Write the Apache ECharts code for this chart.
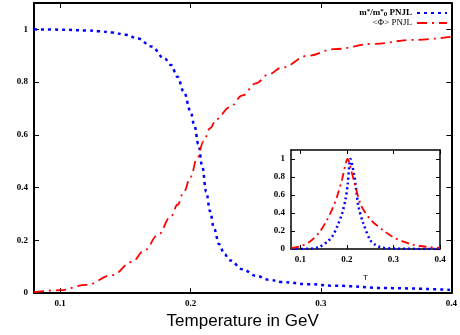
<!DOCTYPE html>
<html>
<head>
<meta charset="utf-8">
<script src="https://cdn.jsdelivr.net/npm/echarts@6/dist/echarts.min.js"></script>
<style>html,body{margin:0;padding:0;background:#fff}#chart{width:460px;height:335px}</style>
</head>
<body>
<div id="chart"></div>
<script>
// main panel: m*/m*0 (PNJL)
const massT = [0.08, 0.1, 0.12, 0.13, 0.14, 0.15, 0.16, 0.17, 0.18, 0.185, 0.19, 0.195, 0.2, 0.203, 0.206, 0.209, 0.212, 0.215, 0.218, 0.222, 0.226, 0.23, 0.24, 0.25, 0.26, 0.27, 0.29, 0.31, 0.35, 0.4]
const massRatio = [1.0, 0.999, 0.996, 0.993, 0.988, 0.98, 0.965, 0.935, 0.89, 0.865, 0.82, 0.762, 0.69, 0.635, 0.565, 0.48, 0.385, 0.31, 0.245, 0.185, 0.148, 0.125, 0.09, 0.066, 0.051, 0.042, 0.034, 0.028, 0.019, 0.012]

// main panel: <Phi> (PNJL)
const phiT = [0.08, 0.1, 0.12, 0.14, 0.155, 0.165, 0.175, 0.185, 0.19, 0.195, 0.2, 0.205, 0.21, 0.215, 0.22, 0.23, 0.24, 0.25, 0.26, 0.27, 0.29, 0.31, 0.34, 0.37, 0.4]
const phiValue = [0.004, 0.011, 0.031, 0.068, 0.118, 0.163, 0.22, 0.29, 0.335, 0.385, 0.44, 0.51, 0.575, 0.625, 0.66, 0.705, 0.75, 0.795, 0.83, 0.855, 0.9, 0.925, 0.945, 0.96, 0.972]

// inset: normalised susceptibilities
const chiMassT = [0.08, 0.12, 0.14, 0.16, 0.17, 0.18, 0.19, 0.197, 0.202, 0.2075, 0.215, 0.22, 0.225, 0.235, 0.25, 0.26, 0.272, 0.3, 0.4]
const chiMass = [0.0, 0.003, 0.02, 0.09, 0.15, 0.26, 0.4, 0.55, 0.73, 1.0, 0.84, 0.66, 0.47, 0.29, 0.1, 0.05, 0.02, 0.005, 0.0]
const chiPhiT = [0.08, 0.1, 0.12, 0.14, 0.155, 0.17, 0.18, 0.19, 0.196, 0.2, 0.202, 0.205, 0.21, 0.215, 0.22, 0.23, 0.24, 0.25, 0.26, 0.28, 0.3, 0.32, 0.34, 0.37, 0.4]
const chiPhi = [0.01, 0.03, 0.08, 0.18, 0.3, 0.46, 0.6, 0.78, 0.92, 0.99, 1.0, 0.96, 0.86, 0.76, 0.66, 0.49, 0.4, 0.33, 0.28, 0.2, 0.13, 0.085, 0.05, 0.025, 0.012]

const xTicks = [0.1, 0.2, 0.3, 0.4]
const yTicks = [0, 0.2, 0.4, 0.6, 0.8, 1]

const pairs = (xs, ys) => xs.map((x, i) => [x, ys[i]])

const tickFont = { fontFamily: 'Liberation Serif', fontWeight: 'bold', fontSize: 9, color: '#000' }

// one axis, ticks drawn inward, labels only on bottom/left
const makeAxis = (gridIndex, position, ticks, showLabel, lineWidth, tickLen, extra) => Object.assign({
    type: 'value',
    gridIndex,
    position,
    min: 0,
    max: 1,
    axisLine: { onZero: false, lineStyle: { color: '#000', width: lineWidth } },
    axisTick: { inside: true, length: tickLen, customValues: ticks, lineStyle: { color: '#000', width: 1 } },
    axisLabel: { show: showLabel, customValues: ticks, margin: 6, ...tickFont },
    splitLine: { show: false }
}, extra)

const chart = echarts.init(document.getElementById('chart'))

const option = {
    backgroundColor: '#fff',
    animation: false,
    grid: [
        { left: 34, top: 3, right: 3, bottom: 39 },
        { left: 291, top: 150, right: 20, bottom: 86, show: true, backgroundColor: '#fff', borderWidth: 0 }
    ],
    legend: {
        data: ['m*/m*0 PNJL', '<Φ> PNJL'],
        orient: 'vertical',
        right: 12,
        top: 8,
        align: 'right',
        itemWidth: 30,
        itemHeight: 8,
        itemGap: 0,
        padding: 0,
        itemStyle: { opacity: 0 },
        formatter: name => name === '<Φ> PNJL' ? '{n|<Φ> PNJL}' : '{b|m}{s|*}{b|/m}{s|*}{sub|0}{b| PNJL}',
        textStyle: {
            lineHeight: 10,
            rich: {
                n: { fontFamily: 'Liberation Serif', fontSize: 9, color: '#000', lineHeight: 10 },
                b: { fontFamily: 'Liberation Serif', fontSize: 9, fontWeight: 'bold', color: '#000', lineHeight: 10 },
                s: { fontFamily: 'Liberation Serif', fontSize: 7, fontWeight: 'bold', color: '#000', verticalAlign: 'top', lineHeight: 10 },
                sub: { fontFamily: 'Liberation Serif', fontSize: 7, fontWeight: 'bold', color: '#000', verticalAlign: 'bottom', lineHeight: 10 }
            }
        }
    },
    xAxis: [
        makeAxis(0, 'bottom', xTicks, true, 2, 5, {
            min: 0.08, max: 0.4,
            name: 'Temperature in GeV', nameLocation: 'middle', nameGap: 18,
            nameTextStyle: { fontFamily: 'Liberation Sans', fontSize: 17, color: '#000' }
        }),
        makeAxis(0, 'top', xTicks, false, 2, 5, { min: 0.08, max: 0.4 }),
        makeAxis(1, 'bottom', xTicks, true, 1.5, 4, {
            min: 0.08, max: 0.4,
            name: 'T', nameLocation: 'middle', nameGap: 25,
            nameTextStyle: { fontFamily: 'Liberation Sans', fontSize: 8, color: '#000' }
        }),
        makeAxis(1, 'top', xTicks, false, 1.5, 4, { min: 0.08, max: 0.4 })
    ],
    yAxis: [
        makeAxis(0, 'left', yTicks, true, 2, 5, { max: 1.1 }),
        makeAxis(0, 'right', yTicks, false, 2, 5, { max: 1.1 }),
        makeAxis(1, 'left', yTicks, true, 1.5, 4, { max: 1.1 }),
        makeAxis(1, 'right', yTicks, false, 1.5, 4, { max: 1.1 })
    ],
    series: [
        {
            name: 'm*/m*0 PNJL', type: 'line', xAxisIndex: 0, yAxisIndex: 0,
            data: pairs(massT, massRatio), symbol: 'none', smooth: 0.4, smoothMonotone: 'x',
            lineStyle: { color: '#0000ff', width: 2.5, type: [3, 4] },
            itemStyle: { color: '#0000ff' }
        },
        {
            name: '<Φ> PNJL', type: 'line', xAxisIndex: 0, yAxisIndex: 0,
            data: pairs(phiT, phiValue), symbol: 'none', smooth: 0.4, smoothMonotone: 'x',
            lineStyle: { color: '#ff0000', width: 1.8, type: [10, 5, 2, 5] },
            itemStyle: { color: '#ff0000' }
        },
        {
            name: 'chi mass', type: 'line', xAxisIndex: 2, yAxisIndex: 2,
            data: pairs(chiMassT, chiMass), symbol: 'none', smooth: 0.3,
            lineStyle: { color: '#0000ff', width: 2.5, type: [2, 3] }
        },
        {
            name: 'chi phi', type: 'line', xAxisIndex: 2, yAxisIndex: 2,
            data: pairs(chiPhiT, chiPhi), symbol: 'none', smooth: 0.3,
            lineStyle: { color: '#ff0000', width: 1.8, type: [8, 4, 2, 4] }
        }
    ]
}

chart.setOption(option)
</script>
</body>
</html>
